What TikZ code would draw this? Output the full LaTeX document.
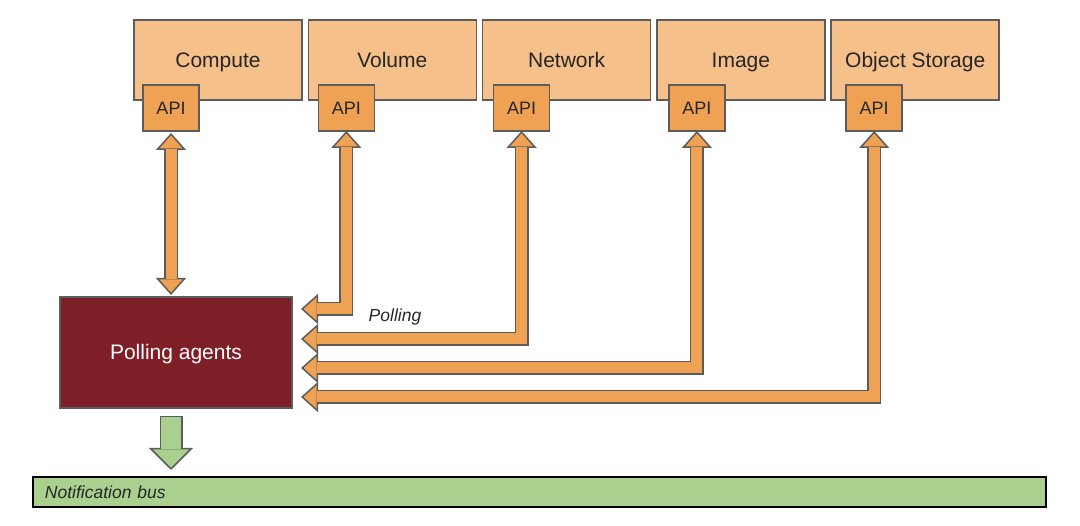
\documentclass[tikz,border=0pt]{standalone}
\usepackage{fontspec}
\setmainfont{Liberation Sans}
\usetikzlibrary{positioning,arrows.meta}

\definecolor{svcfill}{HTML}{F6C08B}
\definecolor{apifill}{HTML}{F0A254}
\definecolor{agentred}{HTML}{7E1F27}
\definecolor{busgreen}{HTML}{A9D08E}
\definecolor{edgegray}{HTML}{5C5C5C}

\tikzset{
  service/.style={draw=edgegray, line width=1.6pt, fill=svcfill, minimum width=168pt,
    minimum height=80pt, inner sep=0pt, outer sep=0pt, text=black!85,
    text height=15pt, text depth=0pt, font=\fontsize{21}{25}\selectfont},
  api/.style={draw=edgegray, line width=1.6pt, fill=apifill, minimum width=56pt,
    minimum height=46pt, inner sep=0pt, outer sep=0pt, text=black!85,
    text height=13pt, text depth=0pt, font=\fontsize{18}{22}\selectfont},
  agent/.style={draw=edgegray, line width=1.2pt, fill=agentred, minimum width=232pt,
    minimum height=111pt, inner sep=0pt, outer sep=0pt, text=white,
    text height=15pt, text depth=0pt, font=\fontsize{21}{25}\selectfont},
  bus/.style={draw=black, line width=1.6pt, fill=busgreen, text width=989pt,
    minimum height=30pt, inner xsep=12pt, inner ysep=0pt, outer sep=0pt, align=left,
    text=black!85, font=\fontsize{17.5}{21}\selectfont\itshape},
  pollnote/.style={inner sep=0pt, text=black!85, font=\fontsize{17.5}{21}\selectfont\itshape},
  pollarrow/.style={draw=edgegray, line width=14pt, line join=miter,
    {Triangle[length=17pt,width=30pt,line width=1.5pt,fill=apifill]}-{Triangle[length=17pt,width=30pt,line width=1.5pt,fill=apifill]},
    postaction={draw=apifill, line width=11pt, arrows=-, shorten <=16pt, shorten >=16pt}},
  busarrow/.style={draw=edgegray, line width=23pt,
    -{Triangle[length=22pt,width=44pt,line width=1.5pt,fill=busgreen]},
    postaction={draw=busgreen, line width=20pt, arrows=-, shorten <=1.5pt, shorten >=21pt}},
}

\begin{document}
\begin{tikzpicture}[x=1pt, y=1pt]
  \useasboundingbox (0,0) rectangle (1080,526);
  % Services
  \node[service] (compute) at (218,466) {Compute};
  \node[service, right=6.3pt of compute] (volume) {Volume};
  \node[service, right=6.3pt of volume] (network) {Network};
  \node[service, right=6.3pt of network] (image) {Image};
  \node[service, right=6.3pt of image] (objstore) {Object Storage};
  % APIs
  \node[api, anchor=north west] (computeapi) at ([xshift=9pt,yshift=15pt]compute.south west) {API};
  \node[api, anchor=north west] (volumeapi) at ([xshift=10pt,yshift=15pt]volume.south west) {API};
  \node[api, anchor=north west] (networkapi) at ([xshift=11pt,yshift=15pt]network.south west) {API};
  \node[api, anchor=north west] (imageapi) at ([xshift=12pt,yshift=15pt]image.south west) {API};
  \node[api, anchor=north west] (objstoreapi) at ([xshift=15pt,yshift=15pt]objstore.south west) {API};
  % Agents and bus
  \node[agent] (agents) at (176,173.5) {Polling agents};
  \node[bus, anchor=south west] (bus) at (33,19) {Notification bus};
  % Connect nodes
  \coordinate (ctop) at ([yshift=-2pt]computeapi.south);
  \coordinate (cbot) at (ctop |- agents.north);
  \draw[pollarrow] (ctop) -- ([yshift=2pt]cbot);
  \coordinate (volin) at ([xshift=9pt,yshift=43.5pt]agents.east);
  \coordinate (netin) at ([xshift=9pt,yshift=13.5pt]agents.east);
  \coordinate (imgin) at ([xshift=9pt,yshift=-15.5pt]agents.east);
  \coordinate (objin) at ([xshift=9pt,yshift=-44.5pt]agents.east);
  \draw[pollarrow] (volumeapi.south) |- (volin);
  \draw[pollarrow] (networkapi.south) |- (netin);
  \draw[pollarrow] (imageapi.south) |- (imgin);
  \draw[pollarrow] (objstoreapi.south) |- (objin);
  \node[pollnote] (polling) at (395,209) {Polling};
  \coordinate (gtop) at ([xshift=-5pt,yshift=-8pt]agents.south);
  \coordinate (gbot) at (gtop |- bus.north);
  \draw[busarrow] (gtop) -- ([yshift=7pt]gbot);
\end{tikzpicture}
\end{document}
